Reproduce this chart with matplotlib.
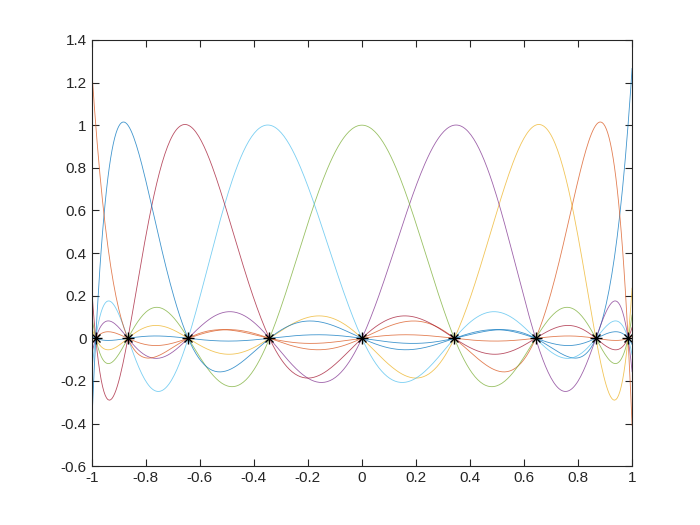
import numpy as np
import matplotlib.pyplot as plt

plt.rcParams['font.family'] = ['Liberation Sans', 'DejaVu Sans']
plt.rcParams['axes.unicode_minus'] = False

# interpolation nodes (black asterisks, y = 0)
nodos = [0.985, 0.866, 0.643, 0.342, 0.0, -0.342, -0.643, -0.866, -0.985]
nodos_y = [0, 0, 0, 0, 0, 0, 0, 0, 0]

colores = ['#0072BD', '#D95319', '#EDB120', '#7E2F8E', '#77AC30',
           '#4DBEEE', '#A2142F']

xticks = [-1, -0.8, -0.6, -0.4, -0.2, 0, 0.2, 0.4, 0.6, 0.8, 1]
yticks = [-0.6, -0.4, -0.2, 0, 0.2, 0.4, 0.6, 0.8, 1, 1.2, 1.4]

fig = plt.figure(figsize=(7, 5.25), dpi=100)
ax = fig.add_axes([0.131, 0.112, 0.772, 0.812])

x = np.linspace(-1, 1, 400)
nd = np.array(nodos)
# polinomio base de Lagrange para cada nodo
for k in range(len(nd)):
    L = np.ones_like(x)
    for j in range(len(nd)):
        if j != k:
            L *= (x - nd[j]) / (nd[k] - nd[j])
    ax.plot(x, L, color=colores[k % len(colores)], lw=0.6, alpha=0.75)

# asterisco estilo MATLAB: + y x superpuestos
ax.plot(nodos, nodos_y, '+', color='black', markersize=8, mew=1.0, lw=0)
ax.plot(nodos, nodos_y, 'x', color='black', markersize=6, mew=1.0, lw=0)

ax.set_xlim(-1, 1)
ax.set_ylim(-0.6, 1.4)
ax.set_xticks(xticks)
ax.set_yticks(yticks)
ax.set_xticklabels(['-1', '-0.8', '-0.6', '-0.4', '-0.2', '0', '0.2', '0.4', '0.6', '0.8', '1'])
ax.set_yticklabels(['-0.6', '-0.4', '-0.2', '0', '0.2', '0.4', '0.6', '0.8', '1', '1.2', '1.4'])
ax.tick_params(direction='in', top=True, right=True, length=5, width=0.8,
               labelsize=11, colors='#262626')
for s in ax.spines.values():
    s.set_color('#262626')
    s.set_linewidth(0.8)

fig.savefig('out.png', dpi=100)
